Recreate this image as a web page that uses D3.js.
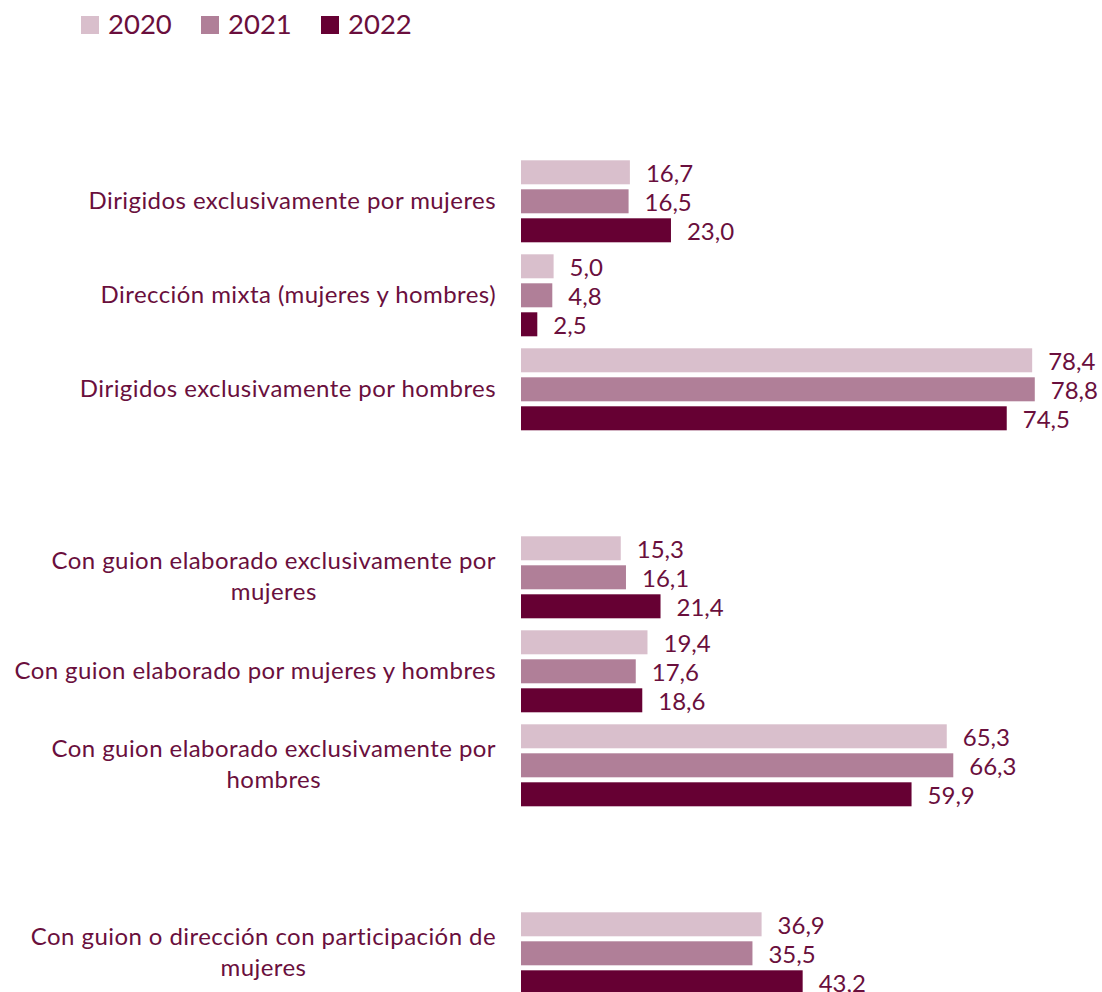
<!DOCTYPE html>
<html><head><meta charset="utf-8">
<script src="https://cdn.jsdelivr.net/npm/d3@7"></script>
<style>body{margin:0;background:#fff}svg{display:block}text{font-family:Lato,"Open Sans",sans-serif}</style>
</head><body>
<svg id="chart" width="1102" height="992"></svg>
<script>
const years = ["2020","2021","2022"];
const categories = [
  "Dirigidos exclusivamente por mujeres",
  "Dirección mixta (mujeres y hombres)",
  "Dirigidos exclusivamente por hombres",
  "",
  "Con guion elaborado exclusivamente por\nmujeres",
  "Con guion elaborado por mujeres y hombres",
  "Con guion elaborado exclusivamente por\nhombres",
  " ",
  "Con guion o dirección con participación de\nmujeres"
];
const values2020 = [16.7, 5.0, 78.4, null, 15.3, 19.4, 65.3, null, 36.9];
const values2021 = [16.5, 4.8, 78.8, null, 16.1, 17.6, 66.3, null, 35.5];
const values2022 = [23.0, 2.5, 74.5, null, 21.4, 18.6, 59.9, null, 43.2];
const colors = ["#d9bfcc", "#b07f98", "#660033"];
const textColor = "#6a0f3d";

const series = [values2020, values2021, values2022];
const svg = d3.select("#chart");

const x = d3.scaleLinear().domain([0, 80]).range([521, 521 + 80 * 6.52]);
const y = d3.scaleBand().domain(categories).range([154.3, 154.3 + 9 * 94])
  .paddingInner(12 / 94).paddingOuter(6 / 94);
const ySub = d3.scaleBand().domain(years).range([0, y.bandwidth()]).paddingInner(5 / 29).paddingOuter(0);

const fmt = v => d3.format(".1f")(v).replace(".", ",");
const FS = 24, LS = 0.43;

categories.forEach((c, i) => {
  if (series[0][i] == null) return;
  const g = svg.append("g").attr("transform", `translate(0,${y(c)})`);
  years.forEach((yr, k) => {
    const v = series[k][i];
    g.append("rect")
      .attr("x", x(0)).attr("y", ySub(yr))
      .attr("width", x(v) - x(0)).attr("height", ySub.bandwidth())
      .attr("fill", colors[k]);
    g.append("text")
      .attr("x", x(v) + 16).attr("y", ySub(yr) + ySub.bandwidth() / 2 + 10)
      .attr("font-size", FS).attr("fill", textColor)
      .text(fmt(v));
  });
  const lines = c.split("\n");
  const cy = y(c) + y.bandwidth() / 2;
  const lh = 31;
  const t = svg.append("text").attr("font-size", FS).attr("letter-spacing", LS).attr("fill", textColor);
  if (lines.length === 1) {
    t.attr("x", 496).attr("y", cy + 8).attr("text-anchor", "end").text(lines[0]);
  } else {
    const tmp = svg.append("text").attr("font-size", FS).attr("letter-spacing", LS).text(lines[0]);
    const w = tmp.node().getComputedTextLength();
    tmp.remove();
    const center = 496 - w / 2;
    lines.forEach((ln, j) => {
      t.append("tspan").attr("x", center).attr("text-anchor", "middle")
        .attr("y", cy - 8 + j * lh).text(ln);
    });
  }
});

const legend = svg.append("g");
years.forEach((yr, k) => {
  const lx = 81 + k * 120;
  legend.append("rect").attr("x", lx).attr("y", 16).attr("width", 18).attr("height", 18).attr("fill", colors[k]);
  legend.append("text").attr("x", lx + 27).attr("y", 34.3).attr("font-size", 27.5).attr("fill", textColor).text(yr);
});
</script>
</body></html>
